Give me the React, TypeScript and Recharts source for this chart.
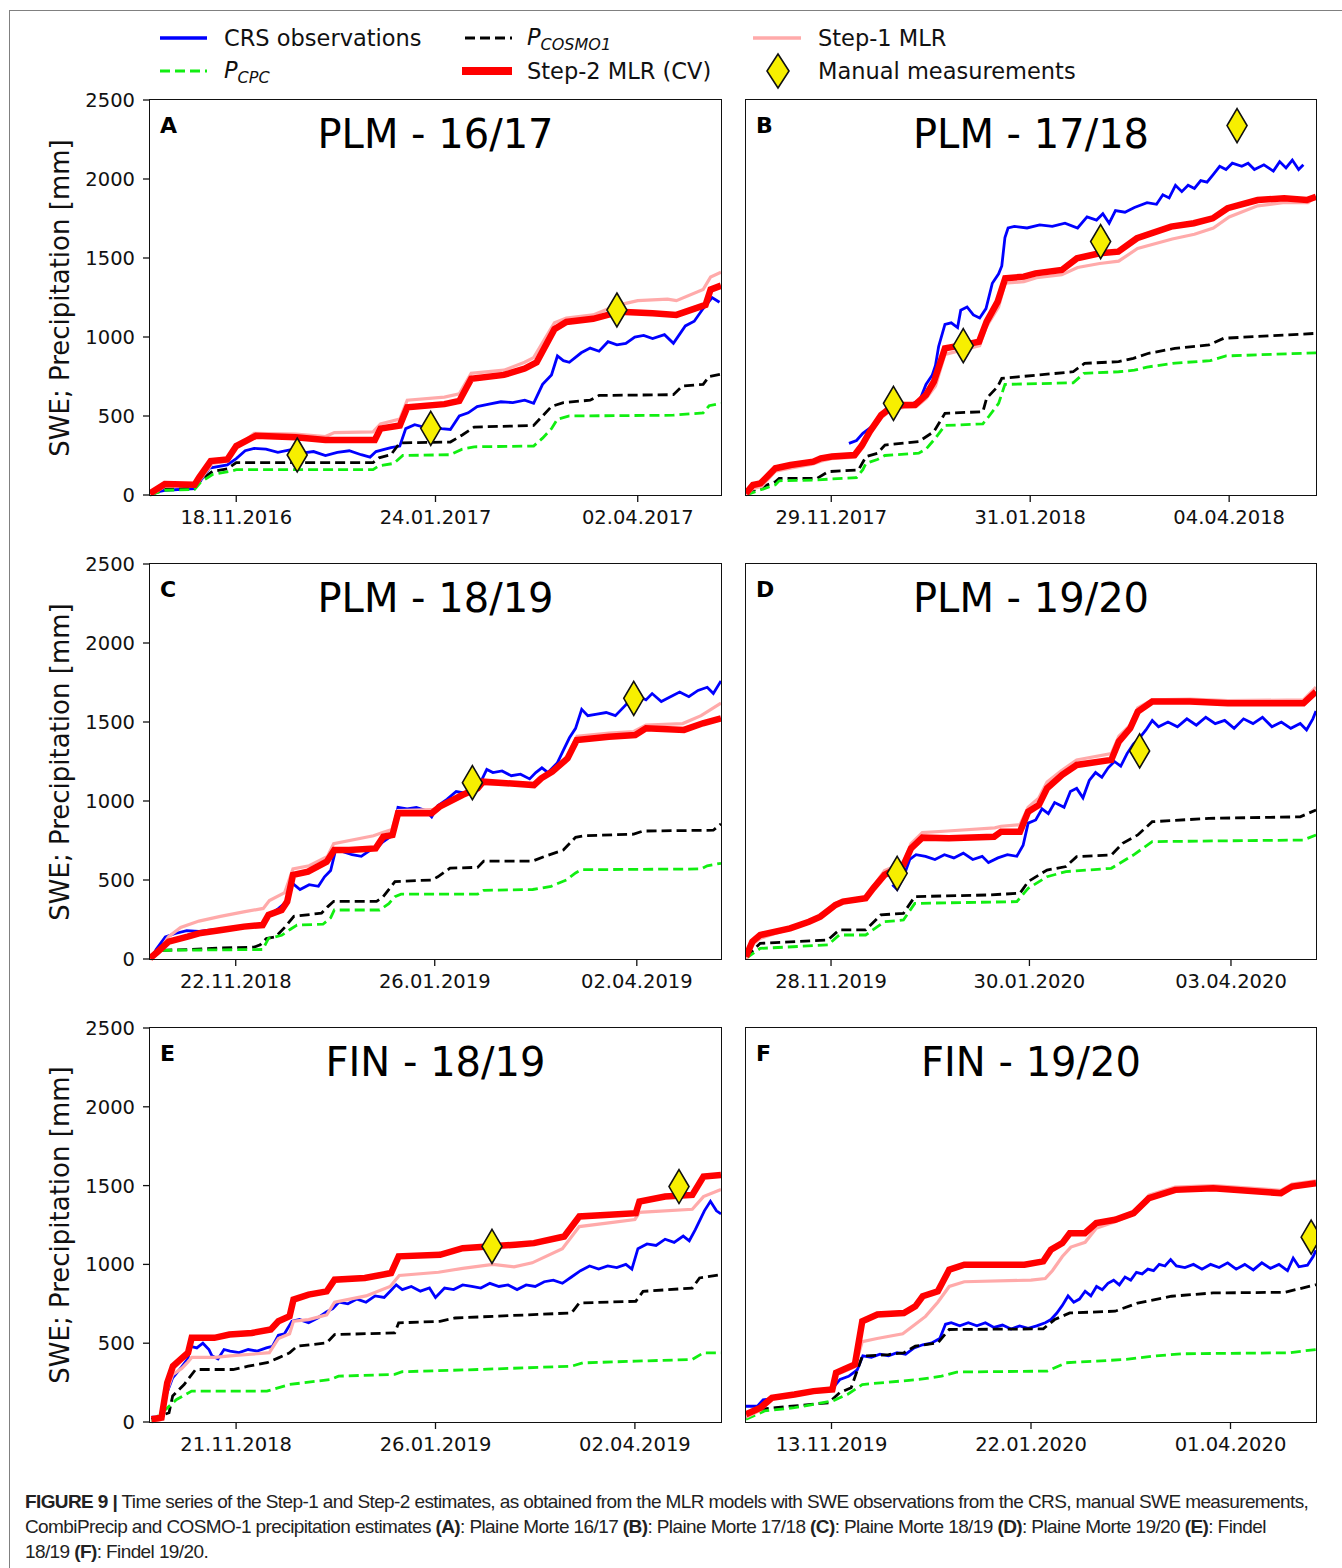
import React from "react";
import { ComposedChart, Line, Scatter, XAxis, YAxis } from "recharts";

type Pt = [number, number];

const FONT = '"DejaVu Sans", Verdana, sans-serif';
const yTicks = [0, 500, 1000, 1500, 2000, 2500];

// A: PLM 16/17 (x = days from first tick date)
const aDomain = [-29, 163];
const aTicks = [0, 67, 135];
const aTickLabels = ["18.11.2016", "24.01.2017", "02.04.2017"];
const aCrs: Pt[] = [[-29,10],[-24,30],[-14,40],[-12,90],[-9,170],[-3,190],[0,230],[3,280],[6,295],[10,290],[14,270],[18,285],[22,265],[26,275],[30,250],[34,270],[38,280],[42,255],[45,240],[47,275],[52,300],[55,310],[57,420],[60,445],[63,430],[66,440],[69,420],[72,415],[75,500],[78,520],[81,560],[85,575],[89,590],[93,585],[97,600],[100,580],[103,700],[106,760],[108,880],[110,850],[112,840],[116,900],[119,930],[122,910],[125,970],[128,950],[131,960],[134,1000],[137,1010],[140,990],[144,1015],[147,960],[151,1070],[154,1100],[157,1180],[160,1250],[162.5,1220]];
const aCosmo: Pt[] = [[-29,0],[-24,35],[-14,45],[-12,90],[-8,150],[-3,165],[0,205],[46,205],[48,235],[52,255],[55,330],[72,335],[76,380],[80,430],[100,440],[103,500],[106,560],[110,585],[119,600],[122,630],[147,635],[150,690],[157,700],[159,750],[163,765]];
const aCpc: Pt[] = [[-29,0],[-24,30],[-14,35],[-12,80],[-8,130],[-2,150],[0,160],[46,160],[48,185],[53,200],[56,250],[72,255],[76,290],[80,305],[100,310],[103,360],[106,420],[108,480],[112,500],[147,505],[157,520],[159,565],[163,580]];
const aStep1: Pt[] = [[-29,0],[-24,55],[-14,60],[-12,100],[-8,200],[-3,215],[0,300],[6,390],[20,385],[30,370],[33,395],[46,400],[48.5,450],[55,480],[57.5,600],[70,620],[75,640],[79,770],[90,790],[97,840],[100,870],[107,1090],[111,1120],[120,1140],[128,1200],[135,1230],[145,1240],[148,1230],[157,1300],[159.5,1380],[163,1410]];
const aStep2: Pt[] = [[-29,10],[-24,70],[-14,65],[-12.5,110],[-8.6,215],[-3,225],[0,310],[6.6,375],[20,365],[30,348],[46.6,348],[48.5,420],[55,440],[57.5,555],[70,575],[75,595],[79,735],[90,760],[97,800],[101,840],[107,1050],[111,1095],[120,1115],[129,1160],[140,1150],[148,1140],[157.8,1203],[159.5,1300],[163,1325]];
const aManual: Pt[] = [[20.5,253],[65.4,422],[128,1171]];

// B: PLM 17/18
const bDomain = [-27, 153.5];
const bTicks = [0, 63, 126];
const bTickLabels = ["29.11.2017", "31.01.2018", "04.04.2018"];
const bCrs: Pt[] = [[5.6,327],[8,345],[10,390],[12,420],[14,450],[16,510],[18,560],[20,580],[23,575],[26,580],[28,600],[30,700],[32,760],[33,820],[34,940],[36,1080],[38,1090],[40,1060],[41,1170],[43,1190],[45,1140],[47,1120],[49,1180],[51,1340],[53,1400],[54,1450],[55,1630],[56,1690],[58,1700],[62,1690],[66,1710],[70,1700],[74,1720],[78,1690],[81,1760],[84,1740],[86,1780],[88,1720],[90,1800],[93,1790],[96,1820],[100,1850],[103,1840],[105,1900],[107,1880],[109,1960],[111,1920],[113,1960],[115,1940],[117,1990],[119,1980],[121,2030],[123,2080],[125,2060],[127,2100],[130,2080],[132,2100],[134,2060],[137,2090],[140,2050],[142,2110],[144,2070],[146,2120],[148,2060],[149.5,2090]];
const bCosmo: Pt[] = [[-27,10],[-17.7,84],[-16.5,105],[-4.5,105],[-1,148],[8.6,158],[11,243],[14.6,264],[17,316],[27.7,338],[32.5,401],[36,517],[48,527],[49.2,612],[52.7,686],[54,738],[76.6,780],[80.2,833],[91,844],[95.7,865],[100.5,897],[108.8,928],[119.6,950],[124.3,992],[153.5,1023]];
const bCpc: Pt[] = [[-27,0],[-17.7,65],[-16.5,90],[-4.5,95],[-1,100],[8,110],[10,160],[11,200],[14.6,225],[17,250],[27.7,265],[30,290],[33,360],[36,440],[48,450],[50,500],[53,580],[55,700],[76.6,710],[80,770],[91,780],[96,790],[100,810],[109,835],[120,850],[125,880],[153.5,900]];
const bStep1: Pt[] = [[-27,0],[-24.8,40],[-22,55],[-17.7,150],[-13,170],[-6,195],[-3,215],[0,230],[7.4,240],[10,300],[12,390],[16,490],[19,540],[23,555],[27,560],[30,610],[33,690],[36,890],[42,920],[47,945],[49,1060],[53,1190],[55,1340],[61,1350],[65,1375],[73,1395],[78,1440],[85,1465],[91,1480],[97,1560],[108,1620],[115,1650],[121,1690],[126,1760],[135,1830],[143,1850],[151,1850],[153.5,1890]];
const bStep2: Pt[] = [[-27,10],[-24.8,63],[-22.4,74],[-17.7,169],[-12.9,190],[-5.7,211],[-3.3,232],[0.2,243],[7.4,253],[9.8,316],[12.2,401],[15.8,506],[19.3,559],[22.9,570],[26.5,570],[30,633],[32.5,717],[36,928],[42,950],[46.8,970],[49.2,1097],[52.7,1224],[55.1,1372],[61,1382],[64.7,1403],[73,1424],[77.8,1498],[85,1530],[90.9,1540],[96.8,1625],[107.6,1699],[114.8,1720],[120.8,1751],[125.5,1815],[135,1867],[143.4,1878],[150.6,1867],[153.5,1888]];
const bManual: Pt[] = [[19.7,580],[41.8,945],[85.3,1604],[128.5,2338]];

// C: PLM 18/19
const cDomain = [-28, 158.5];
const cTicks = [0, 65, 131];
const cTickLabels = ["22.11.2018", "26.01.2019", "02.04.2019"];
const cCrs: Pt[] = [[-27.6,0],[-26,60],[-23,140],[-20,160],[-16,180],[-12,175],[-8,185],[-4,190],[0,200],[4,200],[8,210],[11,280],[14,320],[16.5,360],[18.5,480],[21,440],[24,470],[27,460],[29,520],[31,560],[32.5,680],[35,680],[38,660],[41,650],[44,690],[46,700],[48,740],[51,780],[53,960],[56,950],[59,960],[62,940],[64,900],[66,970],[69,1010],[72,1060],[75,1050],[78,1090],[80,1120],[82,1200],[84,1180],[87,1190],[90,1160],[93,1170],[96,1140],[98,1180],[100,1210],[102,1180],[105,1240],[107,1320],[109,1400],[111,1460],[113,1580],[115,1540],[118,1550],[121,1560],[124,1540],[126,1580],[128,1620],[130,1600],[132,1660],[134,1640],[136,1680],[139,1630],[142,1660],[145,1690],[148,1660],[151,1700],[154,1720],[156,1680],[158.5,1760]];
const cCosmo: Pt[] = [[-28,0],[-26,30],[-24,55],[-15,60],[-5,70],[6,75],[8,90],[10,130],[13,140],[16,200],[19,270],[28,290],[30,330],[32,365],[46,365],[48,390],[52,490],[64,500],[66,520],[70,575],[79,580],[81,620],[97,620],[101,650],[107,690],[111,770],[114,780],[130,790],[133,810],[156,815],[158.5,855]];
const cCpc: Pt[] = [[-28,0],[-25,40],[-24,55],[8.8,60],[10.7,130],[15,150],[18,190],[20,215],[28.5,220],[31,260],[32.2,310],[47,310],[50,350],[52,395],[54,410],[79,410],[81,435],[97,440],[103,460],[108,500],[111,545],[113,565],[152,570],[154,590],[158.5,606]];
const cStep1: Pt[] = [[-28,0],[-25,50],[-22,140],[-18,200],[-12,240],[-5,270],[3,300],[9,320],[11,370],[16,420],[18.7,570],[24,590],[30,650],[32,730],[45,780],[48,800],[51,820],[53,940],[64,945],[67,960],[74,1040],[80,1110],[97,1100],[100,1150],[104,1190],[108,1280],[111.5,1410],[122,1430],[130,1440],[134,1480],[146,1490],[152,1540],[158.5,1620]];
const cStep2: Pt[] = [[-28,4],[-25.5,46],[-21.9,110],[-15.7,141],[-12,162],[-4.7,184],[2.7,205],[8.8,215],[10.7,279],[15,310],[16.8,363],[18.7,532],[23.6,553],[29.7,616],[32.2,690],[37,690],[45.7,700],[48.2,774],[51.2,785],[53,922],[64,922],[66.6,964],[74,1038],[79,1080],[80.8,1122],[97.4,1101],[99.8,1144],[103.4,1186],[108.4,1270],[111.4,1386],[121.9,1407],[130.5,1418],[134,1460],[146.4,1450],[152.6,1492],[158.5,1523]];
const cManual: Pt[] = [[77.3,1116],[130,1650]];

// D: PLM 19/20
const dDomain = [-27, 154];
const dTicks = [0, 63, 127];
const dTickLabels = ["28.11.2019", "30.01.2020", "03.04.2020"];
const dCrs: Pt[] = [[19.5,470],[21,440],[23,520],[25,630],[27,660],[30,650],[33,630],[36,660],[39,640],[42,670],[45,630],[48,650],[50,610],[53,640],[56,660],[59,650],[61,720],[62.6,860],[65,880],[67,950],[69,920],[71,990],[74,960],[76,1060],[78,1080],[80,1020],[82,1130],[84,1180],[86,1150],[88,1210],[90,1250],[92,1220],[94,1300],[96,1360],[98,1400],[100,1450],[102,1510],[104,1470],[107,1500],[110,1470],[113,1520],[116,1480],[119,1530],[122,1490],[125,1510],[128,1460],[131,1520],[134,1490],[137,1530],[140,1470],[143,1500],[146,1460],[149,1490],[151,1450],[153,1520],[154,1570]];
const dCosmo: Pt[] = [[-27,10],[-22.5,99],[-1,120],[2.6,184],[11,184],[15.8,279],[23,289],[26.6,395],[49.4,405],[60,416],[62.6,490],[68.6,563],[74.6,585],[78,648],[89,658],[92.6,732],[97.4,785],[102,869],[120,890],[149,900],[154,943]];
const dCpc: Pt[] = [[-27,4],[-22.5,67],[-1,89],[2.6,152],[11,152],[17,236],[23,247],[26.6,352],[59,363],[62.6,447],[68.6,521],[74.6,553],[89,574],[96,658],[102,743],[150,753],[154,785]];
const dStep1: Pt[] = [[-27,0],[-25,90],[-22.5,130],[-18,160],[-13,190],[-7,240],[-3,280],[1,350],[4,370],[11,390],[13.4,460],[17,560],[23,610],[25.4,730],[29,800],[37,810],[52,830],[54,840],[60,850],[62.6,960],[66,1020],[68.6,1120],[73,1190],[78,1260],[89,1300],[91.4,1410],[95,1480],[97.4,1590],[102,1640],[114,1645],[126,1635],[150,1640],[154,1720]];
const dStep2: Pt[] = [[-27,15],[-25,110],[-22.5,152],[-17.7,173],[-13,194],[-7,236],[-3.4,268],[1.4,342],[3.8,363],[11,384],[13.4,447],[17,532],[23,595],[25.4,700],[29,768],[37.4,764],[51.8,774],[54,806],[60,806],[62.6,932],[66,975],[68.6,1080],[73.4,1165],[78,1228],[89,1260],[91.4,1376],[95,1460],[97.4,1566],[102,1629],[114,1629],[126,1618],[150,1618],[154,1692]];
const dManual: Pt[] = [[21,542],[98,1317]];

// E: FIN 18/19
const eDomain = [-28.5, 160.5];
const eTicks = [0, 66, 132];
const eTickLabels = ["21.11.2018", "26.01.2019", "02.04.2019"];
const eCrs: Pt[] = [[-28,30],[-25,30],[-23,180],[-21,280],[-18,350],[-16,400],[-15,480],[-13,470],[-11,500],[-9,460],[-8,420],[-6,400],[-4,460],[-2,450],[1,440],[4,460],[7,450],[10,470],[12,480],[14,550],[16,560],[18.5,640],[21,650],[24,630],[27,660],[30,700],[32,720],[34,760],[37,750],[40,780],[43,760],[46,800],[49,790],[51,830],[53,870],[55,840],[58,860],[61,830],[64,850],[66,790],[69,850],[72,840],[75,870],[78,860],[81,850],[84,880],[87,860],[90,870],[93,840],[96,870],[99,860],[102,890],[105,900],[108,880],[111,920],[114,960],[117,990],[120,970],[123,990],[126,980],[129,1000],[131,970],[133,1100],[136,1130],[139,1120],[142,1160],[145,1140],[148,1180],[150,1150],[152,1220],[155,1340],[157,1400],[159,1340],[160.5,1320]];
const eCosmo: Pt[] = [[-28,17],[-22.2,59],[-21,165],[-17.2,238],[-13.4,333],[-1,333],[4,354],[10.2,376],[14,407],[17.7,439],[20.2,481],[30,502],[32.6,555],[52.5,565],[53.8,629],[67.5,639],[72.5,660],[111,692],[113.6,755],[132.3,766],[134.7,829],[151,850],[153.4,914],[160.5,935]];
const eCpc: Pt[] = [[-28,0],[-21,120],[-19.7,143],[-14.7,196],[10.2,196],[17.7,238],[31.4,270],[33.9,291],[52.5,302],[55,319],[80,333],[111,354],[114.8,375],[132.3,386],[151,397],[154.7,439],[160.5,439]];
const eStep1: Pt[] = [[-28,0],[-25,15],[-22.8,200],[-21,300],[-18,340],[-16,380],[-14.7,410],[-7,410],[-2,420],[5,430],[11,440],[14,530],[17.7,560],[19,640],[24,650],[30,680],[32.6,760],[43,800],[51,860],[54,930],[67,950],[75,975],[85,1000],[92,985],[98,1010],[108,1100],[113.6,1240],[124,1265],[132,1285],[133.5,1330],[151,1350],[154.7,1430],[160.5,1475]];
const eStep2: Pt[] = [[-28,17],[-24.7,27],[-22.8,249],[-20.9,354],[-18.4,397],[-15.9,439],[-14.7,534],[-7.2,534],[-2.2,555],[5.2,565],[11.5,587],[14,639],[17.7,671],[19,777],[24,808],[30,829],[32.6,903],[42.6,914],[51.3,945],[53.8,1051],[67.5,1061],[75,1103],[92.4,1125],[98.6,1135],[108.6,1177],[113.6,1304],[123.5,1315],[132.3,1325],[133.5,1399],[142,1431],[151,1441],[154.7,1557],[160.5,1568]];
const eManual: Pt[] = [[84.7,1114],[146.6,1494]];

// F: FIN 19/20
const fDomain = [-30, 170];
const fTicks = [0, 70, 140];
const fTickLabels = ["13.11.2019", "22.01.2020", "01.04.2020"];
const fCrs: Pt[] = [[-30,100],[-26,100],[-24,140],[-20,150],[-15,170],[-10,190],[-5,200],[0,205],[3,270],[6,290],[9,330],[11,420],[14,410],[17,430],[20,420],[23,440],[26,430],[29,470],[32,490],[35,500],[38,530],[40,620],[42,630],[45,610],[48,630],[51,610],[54,630],[57,600],[60,615],[63,590],[66,610],[69,595],[72,610],[75,630],[77,650],[79,690],[81,740],[83,800],[85,760],[87,780],[89,830],[91,800],[93,860],[95,840],[97,880],[99,900],[101,870],[103,920],[105,900],[107,950],[109,940],[111,970],[113,960],[115,1000],[117,990],[119,1030],[121,990],[124,980],[127,1000],[130,970],[133,1000],[136,980],[139,1010],[142,970],[145,1000],[148,965],[151,1010],[154,975],[157,1000],[160,960],[162,1040],[164,985],[167,995],[169,1050],[170,1090]];
const fCosmo: Pt[] = [[-30,27],[-24.9,80],[-19.6,91],[-1,122],[2.9,186],[6.9,217],[10.8,418],[20,428],[25.4,439],[29.4,481],[37.3,502],[41.3,587],[74.3,591],[78.3,650],[83.6,692],[99.5,703],[107.4,755],[119.3,798],[133.9,819],[159,823],[170,871]];
const fCpc: Pt[] = [[-30,17],[-23.5,70],[-13,91],[0.3,133],[5.6,175],[10.8,238],[30.7,270],[38.6,291],[43.9,317],[75.7,323],[82.3,376],[103.4,397],[112.7,418],[123.3,433],[160.3,439],[170,460]];
const fStep1: Pt[] = [[-30,30],[-25,75],[-21,150],[-13,180],[-6,200],[0.3,215],[1.6,300],[5.6,330],[8.2,350],[10.8,510],[16,530],[25,560],[29.4,620],[33,670],[37.3,760],[41.3,860],[46.6,890],[70,900],[75,910],[77.5,960],[81,1050],[84,1110],[89,1140],[92.9,1230],[99.5,1270],[106,1320],[111.4,1440],[120.6,1490],[134,1500],[157.7,1470],[161.6,1510],[170,1530]];
const fStep2: Pt[] = [[-30,49],[-24.9,91],[-20.9,154],[-13,175],[-6.3,196],[0.3,207],[1.6,312],[5.6,344],[8.2,365],[10.8,639],[16.1,682],[25.4,692],[29.4,734],[32,798],[37.3,829],[41.3,966],[46.6,998],[67.7,998],[74.3,1019],[77,1093],[81,1135],[83.6,1198],[88.9,1198],[92.9,1262],[99.5,1283],[106,1325],[111.4,1420],[120.6,1473],[133.9,1483],[157.7,1452],[161.6,1494],[170,1515]];
const fManual: Pt[] = [[168.3,1173]];

const col1 = { left: 150, width: 571 };
const col2 = { left: 746, width: 570 };
const rows = [
  { top: 100, height: 395 },
  { top: 564, height: 395 },
  { top: 1028, height: 394 },
];

const panels = [
  { id: "A", title: "PLM - 16/17", col: col1, row: rows[0], showY: true, domain: aDomain, ticks: aTicks, labels: aTickLabels, crs: aCrs, cosmo: aCosmo, cpc: aCpc, step1: aStep1, step2: aStep2, manual: aManual },
  { id: "B", title: "PLM - 17/18", col: col2, row: rows[0], showY: false, domain: bDomain, ticks: bTicks, labels: bTickLabels, crs: bCrs, cosmo: bCosmo, cpc: bCpc, step1: bStep1, step2: bStep2, manual: bManual },
  { id: "C", title: "PLM - 18/19", col: col1, row: rows[1], showY: true, domain: cDomain, ticks: cTicks, labels: cTickLabels, crs: cCrs, cosmo: cCosmo, cpc: cCpc, step1: cStep1, step2: cStep2, manual: cManual },
  { id: "D", title: "PLM - 19/20", col: col2, row: rows[1], showY: false, domain: dDomain, ticks: dTicks, labels: dTickLabels, crs: dCrs, cosmo: dCosmo, cpc: dCpc, step1: dStep1, step2: dStep2, manual: dManual },
  { id: "E", title: "FIN - 18/19", col: col1, row: rows[2], showY: true, domain: eDomain, ticks: eTicks, labels: eTickLabels, crs: eCrs, cosmo: eCosmo, cpc: eCpc, step1: eStep1, step2: eStep2, manual: eManual },
  { id: "F", title: "FIN - 19/20", col: col2, row: rows[2], showY: false, domain: fDomain, ticks: fTicks, labels: fTickLabels, crs: fCrs, cosmo: fCosmo, cpc: fCpc, step1: fStep1, step2: fStep2, manual: fManual },
];

const toPts = (arr: Pt[]) => arr.map(([d, v]) => ({ d, v }));

const Diamond = (props: any) => {
  const { cx, cy } = props;
  if (cx == null || cy == null) return null;
  return (
    <path
      d={`M${cx},${cy - 17}L${cx + 10},${cy}L${cx},${cy + 17}L${cx - 10},${cy}Z`}
      fill="#f7ef00"
      stroke="#111"
      strokeWidth={1.6}
    />
  );
};

function Panel({ p }: { p: (typeof panels)[number] }) {
  const yW = p.showY ? 80 : 0;
  const { left, width } = p.col;
  const { top, height } = p.row;
  return (
    <>
      <div style={{ position: "absolute", left: left - yW, top: top - 10 }}>
        <ComposedChart
          width={yW + width + 10}
          height={height + 50}
          margin={{ top: 10, right: 10, bottom: 0, left: 0 }}
        >
          <XAxis
            dataKey="d"
            type="number"
            domain={p.domain}
            ticks={p.ticks}
            interval={0}
            allowDataOverflow
            tickFormatter={(v: number) => p.labels[p.ticks.indexOf(v)] ?? ""}
            axisLine={false}
            tickSize={7}
            tickMargin={8}
            height={40}
            tick={{ fontSize: 19.5, fill: "#111", fontFamily: FONT }}
            tickLine={{ stroke: "#111", strokeWidth: 1.3 }}
          />
          <YAxis
            dataKey="v"
            type="number"
            domain={[0, 2500]}
            ticks={yTicks}
            interval={0}
            hide={!p.showY}
            width={yW}
            axisLine={false}
            tickSize={7}
            tickMargin={8}
            tick={{ fontSize: 19.5, fill: "#111", fontFamily: FONT }}
            tickLine={{ stroke: "#111", strokeWidth: 1.3 }}
          />
          <Line data={toPts(p.crs)} dataKey="v" stroke="#0000ff" strokeWidth={2.8} dot={false} activeDot={false} isAnimationActive={false} />
          <Line data={toPts(p.cosmo)} dataKey="v" stroke="#000" strokeWidth={2.8} strokeDasharray="10 5" dot={false} activeDot={false} isAnimationActive={false} />
          <Line data={toPts(p.cpc)} dataKey="v" stroke="#11ee11" strokeWidth={2.8} strokeDasharray="10 5" dot={false} activeDot={false} isAnimationActive={false} />
          <Line data={toPts(p.step1)} dataKey="v" stroke="#ffaaaa" strokeWidth={3.2} dot={false} activeDot={false} isAnimationActive={false} />
          <Line data={toPts(p.step2)} dataKey="v" stroke="#ff0000" strokeWidth={6.5} dot={false} activeDot={false} isAnimationActive={false} />
          <Scatter data={toPts(p.manual)} dataKey="v" shape={Diamond} isAnimationActive={false} />
        </ComposedChart>
      </div>
      <div
        style={{
          position: "absolute",
          left: left - 1,
          top: top - 1,
          width: width + 2,
          height: height + 2,
          border: "1.5px solid #111",
          boxSizing: "border-box",
          pointerEvents: "none",
        }}
      />
      <div
        style={{
          position: "absolute",
          left: left,
          width: width,
          top: top + 14,
          textAlign: "center",
          fontSize: 40,
          lineHeight: "40px",
          color: "#000",
        }}
      >
        {p.title}
      </div>
      <div
        style={{
          position: "absolute",
          left: left + 10,
          top: top + 15,
          fontSize: 22,
          lineHeight: "22px",
          fontWeight: "bold",
          color: "#000",
        }}
      >
        {p.id}
      </div>
    </>
  );
}

function Legend() {
  return (
    <svg width={1342} height={100} style={{ position: "absolute", left: 0, top: 0 }} fontFamily={FONT} fontSize={22.5}>
      <line x1={160} x2={207} y1={38} y2={38} stroke="#0000ff" strokeWidth={3.5} />
      <text x={224} y={46} fill="#111">CRS observations</text>
      <line x1={465} x2={512} y1={38} y2={38} stroke="#000" strokeWidth={3} strokeDasharray="10 5" />
      <text x={527} y={45} fill="#111" fontStyle="italic">
        P<tspan fontSize={16} dy={5}>COSMO1</tspan>
      </text>
      <line x1={753} x2={801} y1={38} y2={38} stroke="#ffaaaa" strokeWidth={3.5} />
      <text x={818} y={46} fill="#111">Step-1 MLR</text>

      <line x1={160} x2={207} y1={71} y2={71} stroke="#11ee11" strokeWidth={3} strokeDasharray="10 5" />
      <text x={224} y={78} fill="#111" fontStyle="italic">
        P<tspan fontSize={16} dy={5}>CPC</tspan>
      </text>
      <line x1={462} x2={512} y1={71} y2={71} stroke="#ff0000" strokeWidth={8} />
      <text x={527} y={79} fill="#111">Step-2 MLR (CV)</text>
      <path d="M778,54L789,71L778,88L767,71Z" fill="#f7ef00" stroke="#111" strokeWidth={1.6} />
      <text x={818} y={79} fill="#111">Manual measurements</text>
    </svg>
  );
}

export default function App() {
  return (
    <div
      style={{
        position: "absolute",
        left: 0,
        top: 0,
        width: 1342,
        height: 1568,
        background: "#fff",
        overflow: "hidden",
        fontFamily: FONT,
      }}
    >
      <div
        style={{
          position: "absolute",
          left: 9,
          top: 10,
          width: 1400,
          height: 1600,
          border: "1.5px solid #808080",
        }}
      />
      <Legend />
      {panels.map((p) => (
        <Panel key={p.id} p={p} />
      ))}
      {rows.map((r, i) => (
        <div
          key={i}
          style={{
            position: "absolute",
            left: 60,
            top: r.top + r.height / 2,
            transform: "translate(-50%, -50%) rotate(-90deg)",
            whiteSpace: "nowrap",
            fontSize: 26,
            color: "#111",
          }}
        >
          SWE; Precipitation [mm]
        </div>
      ))}
      <div
        style={{
          position: "absolute",
          left: 25,
          top: 1489,
          fontFamily: '"Liberation Sans Narrow", "Liberation Sans", Arial, sans-serif',
          fontSize: 19,
          lineHeight: "25px",
          color: "#222",
          whiteSpace: "nowrap",
          letterSpacing: -0.6,
        }}
      >
        <b>FIGURE 9</b> <b>|</b> Time series of the Step-1 and Step-2 estimates, as obtained from the MLR models with SWE observations from the CRS, manual SWE measurements,
        <br />
        CombiPrecip and COSMO-1 precipitation estimates <b>(A)</b>: Plaine Morte 16/17 <b>(B)</b>: Plaine Morte 17/18 <b>(C)</b>: Plaine Morte 18/19 <b>(D)</b>: Plaine Morte 19/20 <b>(E)</b>: Findel
        <br />
        18/19 <b>(F)</b>: Findel 19/20.
      </div>
    </div>
  );
}
